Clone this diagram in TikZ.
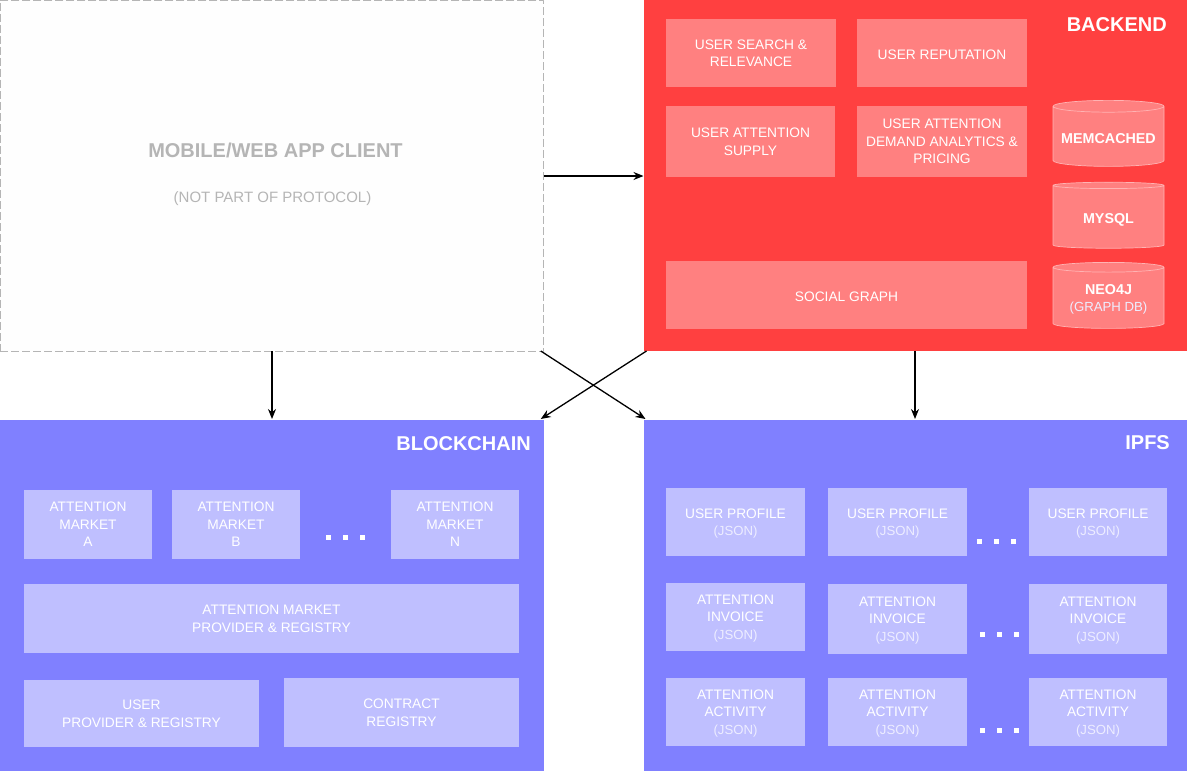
\documentclass[tikz,border=0pt]{standalone}
\usepackage{fontspec}
\setmainfont{Liberation Sans}
\usetikzlibrary{shapes.geometric,arrows.meta}
\definecolor{redbg}{HTML}{FF4040}
\definecolor{redcell}{HTML}{FF8080}
\definecolor{redline}{HTML}{FFB3B3}
\definecolor{bluebg}{HTML}{8080FF}
\definecolor{bluecell}{HTML}{BFBFFF}
\definecolor{cellthin}{HTML}{EDEDFF}
\definecolor{clientgray}{HTML}{B5B5B5}
\newcommand{\lite}[1]{{\fontsize{13.2}{17.5}\selectfont\color{cellthin}#1}}
\tikzset{
	panel/.style={inner sep=0pt, outer sep=0pt, minimum width=543.5pt, minimum height=351pt},
	cell/.style={inner sep=0pt, outer sep=0pt, align=center, text=white, text depth=0pt, execute at begin node={\rule{0pt}{13.5pt}}, font=\fontsize{13.75}{17.5}\selectfont},
	redbox/.style={cell, fill=redcell},
	bluebox/.style={cell, fill=bluecell},
	store/.style={cell, cylinder, shape border rotate=90, shape aspect=0.125, draw=redline, fill=redcell, line width=0.7pt, minimum width=111pt, minimum height=66pt, font=\fontsize{14.3}{17.5}\selectfont},
	headline/.style={text=white, inner sep=0pt, font=\fontsize{20}{24}\selectfont\bfseries},
	link/.style={->, line width=1.3pt},
}
\begin{document}
\begin{tikzpicture}[x=1pt, y=-1pt, >={Stealth[length=10pt,width=8pt]}, line join=round]
	\useasboundingbox (0,0) rectangle (1187,771);
	% panels
	\node[panel, fill=white!99.6!black, draw=clientgray, dash pattern=on 8pt off 3pt, line width=0.8pt] (client) at (272,175.5) {};
	\node[panel, fill=redbg] (backend) at (915.25,175.5) {};
	\node[panel, fill=bluebg] (blockchain) at (272,595.5) {};
	\node[panel, fill=bluebg] (ipfs) at (915.25,595.5) {};
	\node[text=clientgray, inner sep=0pt, font=\fontsize{20}{24}\selectfont\bfseries] (clienttitle) at (275.5,150) {MOBILE/WEB APP CLIENT};
	\node[text=clientgray, inner sep=0pt, font=\fontsize{15}{18}\selectfont] (clientnote) at (272.5,198.5) {(NOT PART OF PROTOCOL)};
	\node[headline, anchor=east] (backendtitle) at (1167,25) {BACKEND};
	\node[headline, anchor=east] (blockchaintitle) at (531,444) {BLOCKCHAIN};
	\node[headline, anchor=east] (ipfstitle) at (1170,443) {IPFS};
	% backend
	\node[redbox, minimum width=170pt, minimum height=68pt] (search) at (751,53) {USER SEARCH \&\\RELEVANCE};
	\node[redbox, minimum width=170pt, minimum height=68pt] (reputation) at (942,53) {USER REPUTATION};
	\node[redbox, minimum width=169pt, minimum height=71pt] (supply) at (750.5,141.5) {USER ATTENTION\\SUPPLY};
	\node[redbox, minimum width=170pt, minimum height=71pt] (demand) at (942,141.5) {USER ATTENTION\\DEMAND ANALYTICS \&\\PRICING};
	\node[redbox, minimum width=361pt, minimum height=68pt] (social) at (846.5,295) {SOCIAL GRAPH};
	\node[store] (memcached) at (1108.5,136.5) {\textbf{MEMCACHED}};
	\node[store] (mysql) at (1108.5,217) {\textbf{MYSQL}};
	\node[store] (neo) at (1108.5,298) {\textbf{NEO4J}\\\lite{(GRAPH DB)}};
	% blockchain
	\node[bluebox, minimum width=128pt, minimum height=69pt] (marketa) at (88,524.5) {ATTENTION\\MARKET\\A};
	\node[bluebox, minimum width=128pt, minimum height=69pt] (marketb) at (236,524.5) {ATTENTION\\MARKET\\B};
	\node[bluebox, minimum width=128pt, minimum height=69pt] (marketn) at (455,524.5) {ATTENTION\\MARKET\\N};
	\node[bluebox, minimum width=495pt, minimum height=69pt] (provider) at (271.5,618.5) {ATTENTION MARKET\\PROVIDER \& REGISTRY};
	\node[bluebox, minimum width=235pt, minimum height=67pt] (userreg) at (141.5,713.5) {USER\\PROVIDER \& REGISTRY};
	\node[bluebox, minimum width=235pt, minimum height=69pt] (contract) at (401.5,712.5) {CONTRACT\\REGISTRY};
	% ipfs
	\foreach \name/\cx/\cy/\ww/\hh/\txt in {
		profilea/735.5/522/139/68/{USER PROFILE},
		profileb/897.5/522/139/68/{USER PROFILE},
		profilen/1098/522/138/68/{USER PROFILE},
		invoicea/735.5/617/139/68/{ATTENTION\\INVOICE},
		invoiceb/897.5/619/139/70/{ATTENTION\\INVOICE},
		invoicen/1098/619/138/70/{ATTENTION\\INVOICE},
		activitya/735.5/712/139/68/{ATTENTION\\ACTIVITY},
		activityb/897.5/712/139/68/{ATTENTION\\ACTIVITY},
		activityn/1098/712/138/68/{ATTENTION\\ACTIVITY}}
	\node[bluebox, minimum width=\ww pt, minimum height=\hh pt] (\name) at (\cx,\cy) {\txt\\\lite{(JSON)}};
	% gaps in the rows
	\foreach \cx/\cy in {345/537, 996/541, 999/634, 999/730}
	\foreach \d in {-17,0,17}
	\fill[white] (\cx+\d-2.5,\cy-2.5) rectangle (\cx+\d+2.5,\cy+2.5);
	% connectors
	\draw[link] ([shift={(0,0.5)}]client.east) -- ([shift={(0,0.5)}]backend.west);
	\draw[link, shorten >=1pt] (client.south) -- (blockchain.north);
	\draw[link, shorten >=1pt] ([shift={(-0.25,0)}]backend.south) -- ([shift={(-0.25,0)}]ipfs.north);
	\draw[link] ([xshift=-3pt]client.south east) -- ([shift={(2,-1)}]ipfs.north west);
	\draw[link] ([xshift=3pt]backend.south west) -- ([shift={(-3,-1)}]blockchain.north east);
\end{tikzpicture}
\end{document}
